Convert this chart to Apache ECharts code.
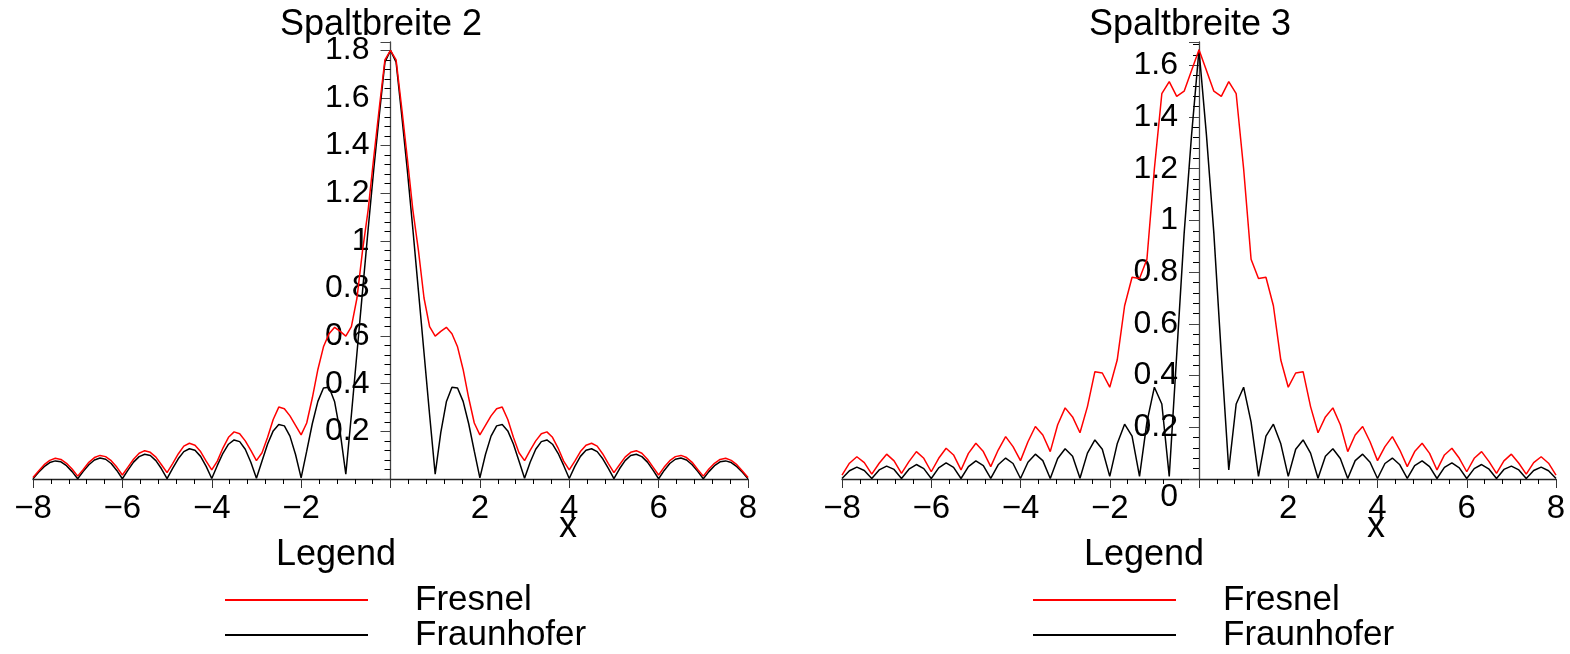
<!DOCTYPE html>
<html>
<head>
<meta charset="utf-8">
<script src="https://cdn.jsdelivr.net/npm/echarts/dist/echarts.min.js"></script>
<style>html,body{margin:0;padding:0;background:#fff}#c{width:1570px;height:654px}</style>
</head>
<body>
<div id="c"></div>
<script>
// ---------- data ----------
const PANEL_TITLES = ['Spaltbreite 2', 'Spaltbreite 3'];
const SERIES_NAMES = ['Fresnel', 'Fraunhofer'];
const LEGEND_TITLE = 'Legend';
const X_NAME = 'x';

// Spaltbreite 2
const X2 = [-8,-7.875,-7.75,-7.625,-7.5,-7.375,-7.25,-7.125,-7,-6.875,-6.75,-6.625,-6.5,-6.375,-6.25,-6.125,-6,-5.875,-5.75,-5.625,-5.5,-5.375,-5.25,-5.125,-5,-4.875,-4.75,-4.625,-4.5,-4.375,-4.25,-4.125,-4,-3.875,-3.75,-3.625,-3.5,-3.375,-3.25,-3.125,-3,-2.875,-2.75,-2.625,-2.5,-2.375,-2.25,-2.125,-2,-1.875,-1.75,-1.625,-1.5,-1.375,-1.25,-1.125,-1,-0.875,-0.75,-0.625,-0.5,-0.375,-0.25,-0.125,0,0.125,0.25,0.375,0.5,0.625,0.75,0.875,1,1.125,1.25,1.375,1.5,1.625,1.75,1.875,2,2.125,2.25,2.375,2.5,2.625,2.75,2.875,3,3.125,3.25,3.375,3.5,3.625,3.75,3.875,4,4.125,4.25,4.375,4.5,4.625,4.75,4.875,5,5.125,5.25,5.375,5.5,5.625,5.75,5.875,6,6.125,6.25,6.375,6.5,6.625,6.75,6.875,7,7.125,7.25,7.375,7.5,7.625,7.75,7.875,8];
const FRESNEL2 = [
0.006,0.034,0.06,0.078,0.087,0.082,0.066,0.042,
0.012,0.04,0.07,0.09,0.099,0.094,0.077,0.05,
0.017,0.05,0.083,0.108,0.119,0.112,0.092,0.06,
0.027,0.065,0.105,0.138,0.15,0.142,0.115,0.075,
0.038,0.075,0.13,0.175,0.198,0.19,0.16,0.12,
0.077,0.11,0.175,0.25,0.302,0.295,0.265,0.225,
0.185,0.235,0.34,0.46,0.555,0.61,0.637,0.62,
0.60,0.64,0.76,0.96,1.13,1.35,1.56,1.76,
1.80,
1.76,1.56,1.35,1.13,0.96,0.76,0.64,
0.60,0.62,0.637,0.61,0.555,0.46,0.34,0.235,
0.185,0.225,0.265,0.295,0.302,0.25,0.175,0.11,
0.077,0.12,0.16,0.19,0.198,0.175,0.13,0.075,
0.038,0.075,0.115,0.142,0.15,0.138,0.105,0.065,
0.027,0.06,0.092,0.112,0.119,0.108,0.083,0.05,
0.017,0.05,0.077,0.094,0.099,0.09,0.07,0.04,
0.012,0.042,0.066,0.082,0.087,0.078,0.06,0.034,
0.006];
const FRAUNHOFER2 = [
0.001,0.028,0.052,0.069,0.076,0.072,0.056,0.031,
0.001,0.032,0.060,0.080,0.088,0.083,0.065,0.036,
0.001,0.037,0.071,0.094,0.104,0.099,0.077,0.043,
0.002,0.045,0.085,0.115,0.127,0.121,0.095,0.053,
0.002,0.057,0.108,0.146,0.164,0.157,0.125,0.070,
0.003,0.076,0.147,0.202,0.229,0.223,0.180,0.103,
0.005,0.117,0.232,0.326,0.382,0.385,0.324,0.195,
0.02,0.27,0.53,0.79,1.05,1.30,1.53,1.75,
1.80,
1.75,1.53,1.30,1.05,0.79,0.53,0.27,
0.02,0.195,0.324,0.385,0.382,0.326,0.232,0.117,
0.005,0.103,0.180,0.223,0.229,0.202,0.147,0.076,
0.003,0.070,0.125,0.157,0.164,0.146,0.108,0.057,
0.002,0.053,0.095,0.121,0.127,0.115,0.085,0.045,
0.002,0.043,0.077,0.099,0.104,0.094,0.071,0.037,
0.001,0.036,0.065,0.083,0.088,0.080,0.060,0.032,
0.001,0.031,0.056,0.072,0.076,0.069,0.052,0.028,
0.001];

// Spaltbreite 3
const X3 = [-8,-7.833,-7.667,-7.5,-7.333,-7.167,-7,-6.833,-6.667,-6.5,-6.333,-6.167,-6,-5.833,-5.667,-5.5,-5.333,-5.167,-5,-4.833,-4.667,-4.5,-4.333,-4.167,-4,-3.833,-3.667,-3.5,-3.333,-3.167,-3,-2.833,-2.667,-2.5,-2.333,-2.167,-2,-1.833,-1.667,-1.5,-1.333,-1.167,-1,-0.833,-0.667,-0.5,-0.333,-0.167,0,0.167,0.333,0.5,0.667,0.833,1,1.167,1.333,1.5,1.667,1.833,2,2.167,2.333,2.5,2.667,2.833,3,3.167,3.333,3.5,3.667,3.833,4,4.167,4.333,4.5,4.667,4.833,5,5.167,5.333,5.5,5.667,5.833,6,6.167,6.333,6.5,6.667,6.833,7,7.167,7.333,7.5,7.667,7.833,8];
const FRESNEL3 = [
0.015,0.061,0.086,0.063,
0.019,0.061,0.096,0.070,
0.022,0.067,0.106,0.080,
0.028,0.080,0.119,0.093,
0.035,0.099,0.138,0.106,
0.048,0.112,0.164,0.125,
0.071,0.144,0.203,0.17,
0.106,0.21,0.275,0.24,
0.179,0.28,0.415,0.41,
0.355,0.46,0.67,0.78,
0.775,0.85,1.20,1.49,
1.537,1.48,1.50,1.58,
1.66,
1.58,1.50,1.48,1.537,
1.49,1.20,0.85,0.775,
0.78,0.67,0.46,0.355,
0.41,0.415,0.28,0.179,
0.24,0.275,0.21,0.106,
0.17,0.203,0.144,0.071,
0.125,0.164,0.112,0.048,
0.106,0.138,0.099,0.035,
0.093,0.119,0.080,0.028,
0.080,0.106,0.067,0.022,
0.070,0.096,0.061,0.019,
0.063,0.086,0.061,0.015];
const FRAUNHOFER3 = [
0.002,0.032,0.046,0.033,
0.002,0.035,0.050,0.037,
0.002,0.038,0.056,0.040,
0.002,0.043,0.062,0.045,
0.002,0.048,0.070,0.052,
0.002,0.055,0.081,0.060,
0.002,0.065,0.096,0.071,
0.002,0.079,0.117,0.088,
0.003,0.100,0.151,0.115,
0.01,0.136,0.212,0.166,
0.01,0.22,0.355,0.29,
0.01,0.48,0.95,1.33,
1.66,
1.33,0.95,0.48,0.035,
0.29,0.355,0.22,0.01,
0.166,0.212,0.136,0.01,
0.115,0.151,0.100,0.003,
0.088,0.117,0.079,0.002,
0.071,0.096,0.065,0.002,
0.060,0.081,0.055,0.002,
0.052,0.070,0.048,0.002,
0.045,0.062,0.043,0.002,
0.040,0.056,0.038,0.002,
0.037,0.050,0.035,0.002,
0.033,0.046,0.032,0.002];

const Y_MAX = [1.835, 1.69];

// ---------- chart ----------
const FONT = '"Liberation Sans", Arial, Helvetica, sans-serif';
const RED = '#ff0000', BLACK = '#000000';
const GRIDS = [
  {left: 33, top: 42, width: 715, height: 437, containLabel: false, outerBoundsMode: 'none'},
  {left: 842, top: 42, width: 714, height: 437, containLabel: false, outerBoundsMode: 'none'}
];
// y axis sits where x = 0 (middle of the -8..8 range)
const Y_OFFSET = [-357.5, -357];

function xAxisCfg(gi) {
  return {
    type: 'value', gridIndex: gi, min: -8, max: 8, interval: 2,
    axisLine: {show: true, onZero: false, lineStyle: {color: '#222', width: 1.3}},
    axisTick: {show: true, length: 9, lineStyle: {color: '#333', width: 1}},
    minorTick: {show: true, splitNumber: 5, length: 5, lineStyle: {color: '#000', width: 1}},
    splitLine: {show: false}, minorSplitLine: {show: false},
    axisLabel: {
      fontSize: 33, color: '#000', fontFamily: FONT, margin: 13,
      hideOverlap: false,
      formatter: v => v === 0 ? '' : (v < 0 ? '\u2212' + (-v) : String(v))
    }
  };
}
function yAxisCfg(gi, showZero) {
  return {
    type: 'value', gridIndex: gi, min: 0, max: Y_MAX[gi], interval: 0.2,
    position: 'left', offset: Y_OFFSET[gi],
    axisLine: {show: true, onZero: false, lineStyle: {color: '#444', width: 1.3}},
    axisTick: {show: true, length: 10, lineStyle: {color: '#444', width: 1}},
    minorTick: {show: true, splitNumber: 5, length: 6, lineStyle: {color: '#000', width: 1}},
    splitLine: {show: false}, minorSplitLine: {show: false},
    axisLabel: {
      fontSize: 32, color: '#000', fontFamily: FONT, margin: 21,
      showMaxLabel: false, hideOverlap: false,
      formatter: v => {
        const r = Math.round(v * 5) / 5;
        if (Math.abs(v - r) > 1e-6) return '';
        if (Math.abs(v) < 1e-9) return showZero ? '{z|0}' : '';
        return String(+r.toFixed(1));
      },
      rich: {z: {fontSize: 32, color: '#000', fontFamily: FONT, padding: [36, 0, 0, 0]}}
    }
  };
}
function seriesCfg(gi, name, xs, ys, color, z) {
  return {
    type: 'line', name: name, xAxisIndex: gi, yAxisIndex: gi,
    data: xs.map((x, i) => [x, ys[i]]),
    showSymbol: false, symbol: 'none', z: z,
    color: color,
    lineStyle: {color: color, width: 1.5},
    itemStyle: {color: color}
  };
}
function textTitle(text, cx, top, size) {
  return {
    text: text, left: cx, top: top, textAlign: 'center', padding: 0,
    textStyle: {fontSize: size, fontWeight: 'normal', color: '#000', fontFamily: FONT}
  };
}
function legendCfg(left) {
  return {
    orient: 'vertical', left: left, top: 582.5, padding: 0,
    itemWidth: 143, itemHeight: 2, itemGap: 0, icon: 'rect',
    data: SERIES_NAMES.slice(),
    selectedMode: false,
    textStyle: {fontSize: 35, lineHeight: 35, color: '#000', fontFamily: FONT, padding: [0, 0, 0, 42]}
  };
}

const chart = echarts.init(document.getElementById('c'), null, {renderer: 'canvas'});
chart.setOption({
  backgroundColor: '#fff',
  animation: false,
  title: [
    textTitle(PANEL_TITLES[0], 381, 7, 36),
    textTitle(PANEL_TITLES[1], 1190, 7, 36),
    textTitle(LEGEND_TITLE, 336, 537, 36),
    textTitle(LEGEND_TITLE, 1144, 537, 36),
    textTitle(X_NAME, 568, 509, 36),
    textTitle(X_NAME, 1376, 509, 36)
  ],
  legend: [legendCfg(225), legendCfg(1033)],
  grid: GRIDS,
  xAxis: [xAxisCfg(0), xAxisCfg(1)],
  yAxis: [yAxisCfg(0, false), yAxisCfg(1, true)],
  series: [
    seriesCfg(0, SERIES_NAMES[1], X2, FRAUNHOFER2, BLACK, 2),
    seriesCfg(0, SERIES_NAMES[0], X2, FRESNEL2, RED, 3),
    seriesCfg(1, SERIES_NAMES[1], X3, FRAUNHOFER3, BLACK, 2),
    seriesCfg(1, SERIES_NAMES[0], X3, FRESNEL3, RED, 3)
  ]
});
</script>
</body>
</html>
